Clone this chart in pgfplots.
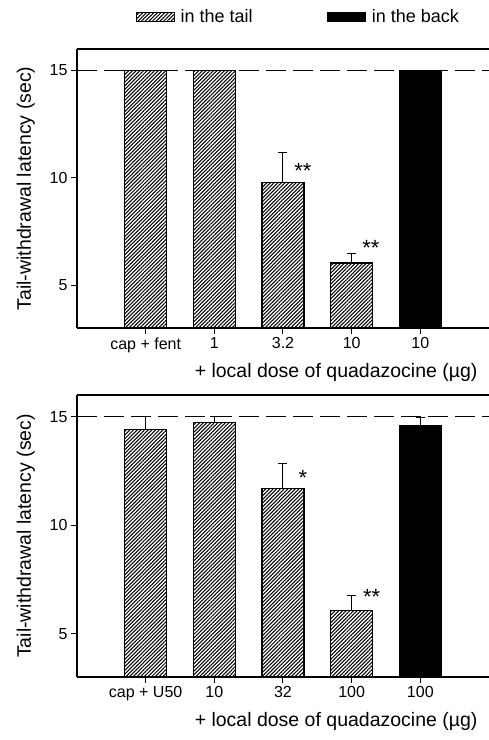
\documentclass[border=0pt]{standalone}
\usepackage{pgfplots}
\usepackage{pgfplotstable}
\pgfplotsset{compat=1.18}
\usetikzlibrary{patterns.meta}
\usepackage{fontspec}
\setmainfont{Liberation Sans}

\pgfplotstableread{
x y e
1 15 0
2 15 0
3 9.78 1.42
4 6.03 0.42
}\toptail
\pgfplotstableread{
x y e
5 15 0
}\topback
\pgfplotstableread{
x y e
1 14.42 0.58
2 14.75 0.27
3 11.70 1.16
4 6.06 0.70
}\bottail
\pgfplotstableread{
x y e
5 14.60 0.38
}\botback

\tikzset{hatch/.style={pattern={Lines[angle=45,distance=2.6pt,line width=1.05pt]}}}

\pgfplotsset{
  panel/.style={
    scale only axis, width=412pt,
    xmin=0, xmax=6, ymin=3, ymax=16,
    axis x line*=box, axis y line*=left,
    xtick pos=left, ytick pos=left,
    axis line style={line width=1.2pt, black},
    xtick={1,2,3,4,5}, ytick={5,10,15},
    tick align=outside, major tick length=6pt,
    tick style={line width=1pt, black},
    ticklabel style={font=\fontsize{16}{16}\selectfont},
    /pgf/number format/assume math mode=true,
    label style={font=\fontsize{19.5}{20}\selectfont},
    xlabel={+ local dose of quadazocine (µg)},
    xlabel style={at={(rel axis cs:0.629,0)}, anchor=center, yshift=-44pt},
    ylabel={Tail-withdrawal latency (sec)},
    ylabel style={yshift=8pt},
    error bars/y dir=plus, error bars/y explicit,
    error bars/error mark options={rotate=90, mark size=4.5pt, line width=1pt, black},
    error bars/error bar style={line width=1pt, black},
  },
  tailbar/.style={ybar, bar shift=0pt, bar width=0.61, draw=black, line width=1.2pt, hatch,
    legend image code/.code={\draw[draw=black, line width=0.6pt, hatch] (0pt,-4.5pt) rectangle (38pt,4.5pt);}},
  backbar/.style={ybar, bar shift=0pt, bar width=0.61, draw=black, line width=1.2pt, fill=black,
    legend image code/.code={\draw[draw=black, fill=black] (0pt,-4.5pt) rectangle (38pt,4.5pt);}},
}

\begin{document}
\begin{tikzpicture}
\path[use as bounding box] (0pt,0pt) rectangle (489pt,-740pt);

\begin{axis}[panel, height=279pt, at={(77pt,-328pt)}, anchor=south west,
  xticklabels={cap + fent,1,3.2,10,10},
  legend columns=2,
  legend style={draw=none, fill=none, inner sep=0pt, at={(rel axis cs:0.143,1)}, anchor=west, yshift=32pt,
    font=\fontsize{18}{18}\selectfont,
    /tikz/every odd column/.append style={column sep=4pt},
    /tikz/every even column/.append style={column sep=72pt}},
]
\addplot[tailbar] table[x=x, y=y, y error=e] {\toptail};
\addlegendentry{in the tail}
\addplot[backbar] table[x=x, y=y, y error=e] {\topback};
\addlegendentry{in the back}
\draw[line width=1pt, dash pattern=on 20pt off 7pt] (axis cs:0,15) -- (axis cs:6,15);
\node[font=\fontsize{22}{22}\selectfont, yshift=-4.7pt] at (axis cs:3.29,10.54) {**};
\node[font=\fontsize{22}{22}\selectfont, yshift=-4.7pt] at (axis cs:4.28,6.93) {**};
\end{axis}

\begin{axis}[panel, height=282pt, at={(77pt,-677pt)}, anchor=south west,
  xticklabels={cap + U50,10,32,100,100},
]
\addplot[tailbar] table[x=x, y=y, y error=e] {\bottail};
\addplot[backbar] table[x=x, y=y, y error=e] {\botback};
\draw[line width=1pt, dash pattern=on 20pt off 7pt] (axis cs:0,15) -- (axis cs:6,15);
\node[font=\fontsize{22}{22}\selectfont, yshift=-4.7pt] at (axis cs:3.29,12.41) {*};
\node[font=\fontsize{22}{22}\selectfont, yshift=-4.7pt] at (axis cs:4.29,6.9) {**};
\end{axis}
\end{tikzpicture}
\end{document}
